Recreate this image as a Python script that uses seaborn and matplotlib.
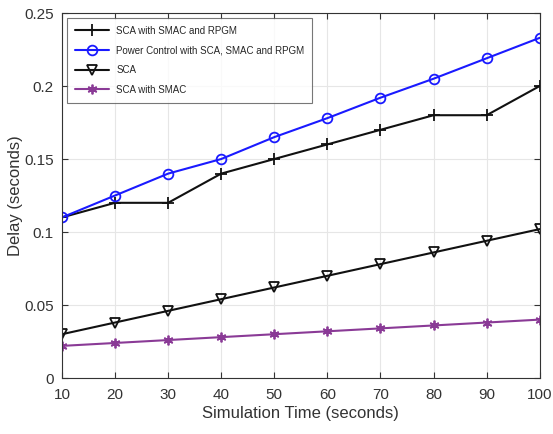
import matplotlib
matplotlib.use("Agg")
import matplotlib.pyplot as plt
import seaborn as sns
import pandas as pd

sim_time = [10, 20, 30, 40, 50, 60, 70, 80, 90, 100]
sca_smac_rpgm = [0.11, 0.12, 0.12, 0.14, 0.15, 0.16, 0.17, 0.18, 0.18, 0.20]
power_control = [0.11, 0.125, 0.14, 0.15, 0.165, 0.178, 0.192, 0.205, 0.219, 0.233]
sca = [0.030, 0.038, 0.046, 0.054, 0.062, 0.070, 0.078, 0.086, 0.094, 0.102]
sca_smac = [0.022, 0.024, 0.026, 0.028, 0.030, 0.032, 0.034, 0.036, 0.038, 0.040]

series_names = ["SCA with SMAC and RPGM",
                "Power Control with SCA, SMAC and RPGM",
                "SCA",
                "SCA with SMAC"]
series_vals = [sca_smac_rpgm, power_control, sca, sca_smac]
colors = ["#111111", "#1a1aff", "#111111", "#8a3a96"]
markers = ["+", "o", "v", (6, 2, 0)]

rows = []
for name, vals in zip(series_names, series_vals):
    for t, v in zip(sim_time, vals):
        rows.append({"time": t, "delay": v, "series": name})
df = pd.DataFrame(rows)

sns.set_style("white")
plt.rcParams["font.family"] = ["Liberation Sans", "DejaVu Sans"]

fig = plt.figure(figsize=(5.53, 4.34), dpi=100)
ax = fig.add_axes([0.112, 0.129, 0.864, 0.841])

for name, col, mk in zip(series_names, colors, markers):
    sub = df[df["series"] == name]
    kw = dict(markersize=8 if mk == "+" else 7, markeredgewidth=1.3,
              markeredgecolor=col)
    if mk in ("o", "v"):
        kw["markerfacecolor"] = "none"
    sns.lineplot(data=sub, x="time", y="delay", ax=ax, color=col, marker=mk,
                 linewidth=1.5, label=name, **kw)

ax.set_xlim(10, 100)
ax.set_ylim(0, 0.25)
ax.set_xticks(sim_time)
ax.set_yticks([0, 0.05, 0.1, 0.15, 0.2, 0.25])
ax.set_yticklabels(["0", "0.05", "0.1", "0.15", "0.2", "0.25"])
ax.grid(True, color="#e6e6e6", linewidth=0.8)
ax.tick_params(direction="in", length=4, labelsize=11, colors="#333333",
               top=True, right=True, bottom=True, left=True)
ax.tick_params(axis="x", pad=7)
ax.tick_params(axis="y", pad=6)
for s in ax.spines.values():
    s.set_color("#333333")
    s.set_linewidth(0.8)
ax.set_xlabel("Simulation Time (seconds)", fontsize=12, color="#333333", labelpad=3)
ax.set_ylabel("Delay (seconds)", fontsize=12, color="#333333", labelpad=1)

leg = ax.legend(loc="upper left", fontsize=7, frameon=True, fancybox=False,
                edgecolor="#555555", handlelength=3.5, borderpad=0.8,
                labelspacing=1.0)
leg.get_frame().set_linewidth(0.8)

fig.savefig("out.png", dpi=100)
